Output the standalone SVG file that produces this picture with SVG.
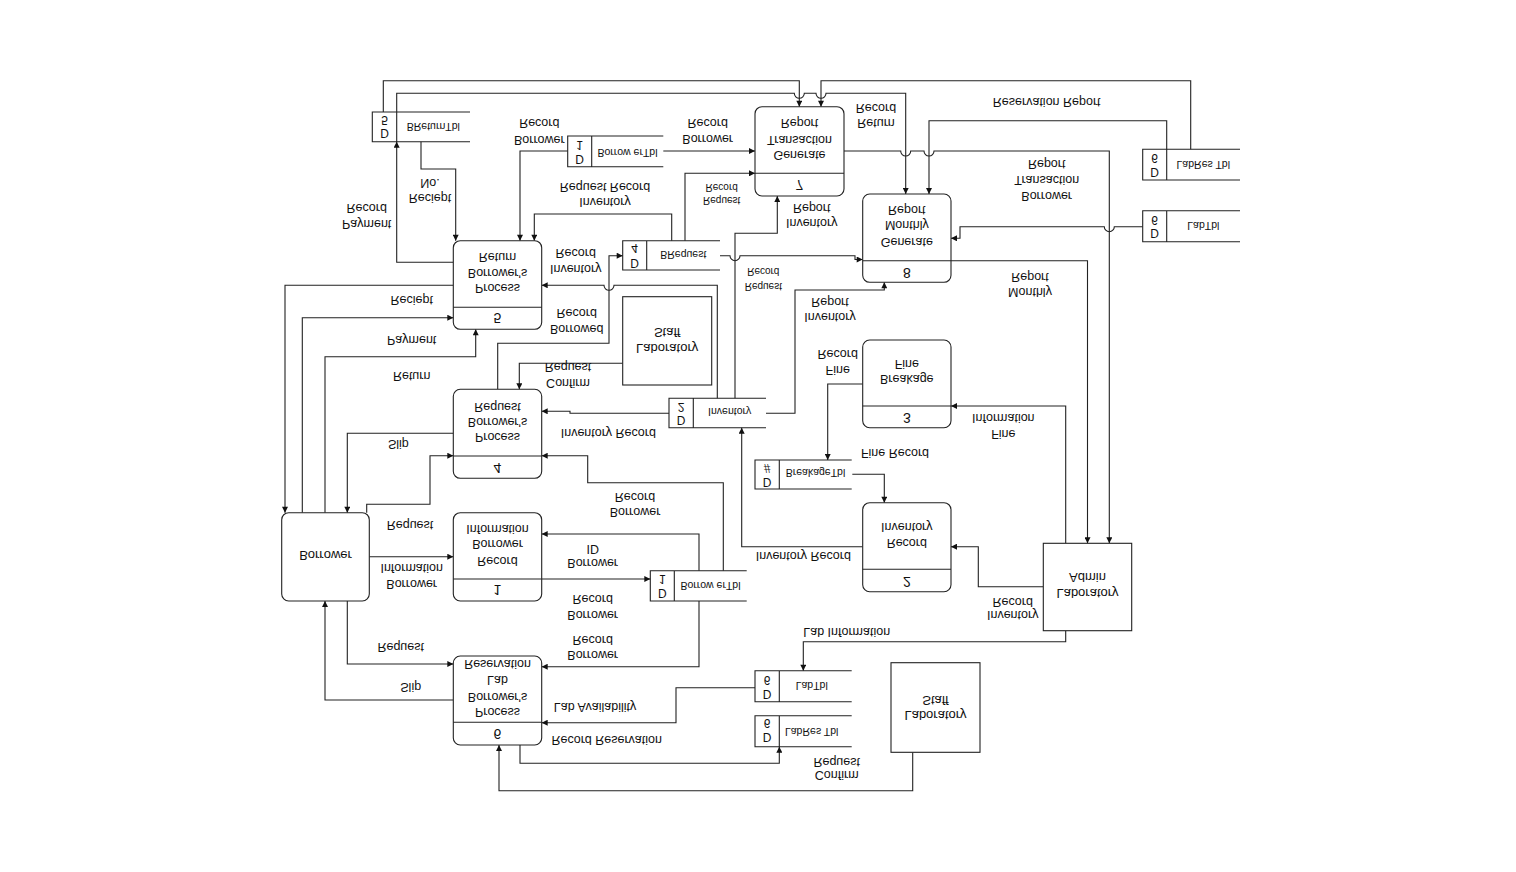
<svg xmlns="http://www.w3.org/2000/svg" width="1516" height="872" viewBox="0 0 1516 872">
<style>
text{font-family:"Liberation Sans",Arial,sans-serif;fill:#111;text-anchor:middle;dominant-baseline:central}
.n{font-size:12.5px}
.e{font-size:13px}
.l{font-size:12.5px}
.s{font-size:10px}
.sn{font-size:10.5px}
.sd{font-size:12px}
.pn{font-size:14px}
.box{fill:#fff;stroke:#222;stroke-width:1.1}
.ln{fill:none;stroke:#222;stroke-width:1.1}
.c path{fill:none;stroke:#222;stroke-width:1.1}
.a{marker-end:url(#arr)}
</style>
<defs>
<marker id="arr" viewBox="0 0 10 10" refX="10" refY="5" markerWidth="7" markerHeight="6" markerUnits="userSpaceOnUse" orient="auto">
<path d="M0,0 L10,5 L0,10 z" fill="#111"/>
</marker>
</defs>
<rect width="1516" height="872" fill="#fff"/>

<g id="connectors" class="c">
<path class="a" d="M383.3,112 V80.7 H799.3 V106.7"/>
<path class="a" d="M396.7,112 V93.3 H794.3 A5,5 0 0 0 804.3,93.3 H816 A5,5 0 0 0 826,93.3 H905.7 V194"/>
<path class="a" d="M1190.7,149.3 V80.7 H821 V106.7"/>
<path class="a" d="M1166.7,149.3 V120.7 H929 V194"/>
<path class="a" d="M844,151 H900.7 A5,5 0 0 0 910.7,151 H924 A5,5 0 0 0 934,151 H1109.3 V543.3"/>
<path class="a" d="M1142.7,226.7 H1114.3 A5,5 0 0 1 1104.3,226.7 H960 V238.3 H951"/>
<path class="a" d="M951,260.7 H1087.5 V543.3"/>
<path class="a" d="M663.3,151 H755"/>
<path class="a" d="M685,240.7 V173.3 H755"/>
<path class="a" d="M735,398.3 V233.3 H777.3 V196"/>
<path class="a" d="M720,255.7 H730 A5,5 0 0 0 740,255.7 H855 V259.5 H862.7"/>
<path class="a" d="M766,413.3 H795 V290 H884.3 V282.3"/>
<path class="a" d="M567.7,151 H520 V240.7"/>
<path class="a" d="M671.7,240.7 V214 H534.3 V240.7"/>
<path class="a" d="M421,141.7 V169 H455.7 V240.7"/>
<path class="a" d="M453.3,262.3 H396.7 V141.7"/>
<path class="a" d="M717.3,398.3 V285.3 H614 A5,5 0 0 1 604,285.3 H541.7"/>
<path class="a" d="M497.7,389.3 V343.3 H609 V255.7 H622.7"/>
<path class="a" d="M453.3,285.3 H285 V512.7"/>
<path class="a" d="M302.3,512.7 V317.7 H453.3"/>
<path class="a" d="M325,512.7 V356.7 H475.7 V329.3"/>
<path class="a" d="M622.7,363.3 H519.3 V389.3"/>
<path class="a" d="M669,413.3 H570 V411.3 H541.7"/>
<path class="a" d="M453.3,433.3 H347.3 V512.7"/>
<path class="a" d="M366.7,512.7 V504.3 H430 V455.7 H453.3"/>
<path class="a" d="M723.3,570.7 V482.7 H587.7 V455.7 H541.7"/>
<path class="a" d="M862.7,546.7 H741.7 V427.7"/>
<path class="a" d="M369.3,556.7 H453.3"/>
<path class="a" d="M541.7,579 H650.3"/>
<path class="a" d="M699,570.7 V534 H541.7"/>
<path class="a" d="M699,601 V666.7 H541.7"/>
<path class="a" d="M347.3,601 V664 H453.3"/>
<path class="a" d="M453.3,700 H325 V601"/>
<path class="a" d="M755,687.7 H676 V722.7 H541.7"/>
<path class="a" d="M520,745 V763.3 H779.3 V746.7"/>
<path class="a" d="M912.7,752.3 V790.7 H499 V745"/>
<path class="a" d="M1065.7,630.7 V641.7 H803.3 V670.7"/>
<path class="a" d="M862.7,384 H827.7 V460"/>
<path class="a" d="M852.3,474.3 H884.3 V502.7"/>
<path class="a" d="M1065.7,543.3 V406 H951"/>
<path class="a" d="M1043.3,586.7 H978.3 V546.7 H951"/>
</g>

<g id="flow-labels" transform="scale(1,-1)">
<text class="l" x="1046.7" y="-101.7">Reservation Report</text>
<text class="l" x="876" y="-108.3">Record</text>
<text class="l" x="876" y="-123.3">Return</text>
<text class="l" x="1046.7" y="-164.3">Report</text>
<text class="l" x="1046.7" y="-180">Transaction</text>
<text class="l" x="1046.7" y="-196">Borrower</text>
<text class="l" x="1030" y="-276.7">Report</text>
<text class="l" x="1030" y="-291.7">Monthly</text>
<text class="l" x="811.7" y="-208.3">Report</text>
<text class="l" x="811.7" y="-223.3">Inventory</text>
<text class="s" x="721.7" y="-187.3">Record</text>
<text class="s" x="721.7" y="-200.7">Request</text>
<text class="l" x="707.7" y="-123.3">Record</text>
<text class="l" x="707.7" y="-139.3">Borrower</text>
<text class="l" x="539.3" y="-123.3">Record</text>
<text class="l" x="539.3" y="-140">Borrower</text>
<text class="l" x="605" y="-186.7">Request Record</text>
<text class="l" x="605" y="-201.7">Inventory</text>
<text class="l" x="430" y="-183.3">No.</text>
<text class="l" x="430" y="-198.3">Reciept</text>
<text class="l" x="366.7" y="-208.3">Record</text>
<text class="l" x="366.7" y="-224.3">Payment</text>
<text class="l" x="575.7" y="-253.3">Record</text>
<text class="l" x="575.7" y="-269.3">Inventory</text>
<text class="s" x="763.3" y="-271.7">Record</text>
<text class="s" x="763.3" y="-286.7">Request</text>
<text class="l" x="411.7" y="-300">Reciept</text>
<text class="l" x="411.7" y="-340">Payment</text>
<text class="l" x="411.7" y="-375.7">Return</text>
<text class="l" x="576.7" y="-313.3">Record</text>
<text class="l" x="576.7" y="-329.3">Borrowed</text>
<text class="l" x="568" y="-367.3">Request</text>
<text class="l" x="568" y="-383.3">Confirm</text>
<text class="l" x="830" y="-301.7">Report</text>
<text class="l" x="830" y="-316.7">Inventory</text>
<text class="l" x="837.7" y="-354">Record</text>
<text class="l" x="837.7" y="-370">Fine</text>
<text class="l" x="608.3" y="-433.3">Inventory Record</text>
<text class="l" x="398.3" y="-444">Slip</text>
<text class="l" x="1003.3" y="-418.3">Information</text>
<text class="l" x="1003.3" y="-434.3">Fine</text>
<text class="l" x="895" y="-453.3">Fine Record</text>
<text class="l" x="635" y="-496.7">Record</text>
<text class="l" x="635" y="-512.3">Borrower</text>
<text class="l" x="410" y="-525">Request</text>
<text class="l" x="803.3" y="-556">Inventory Record</text>
<text class="l" x="411.7" y="-568.3">Information</text>
<text class="l" x="411.7" y="-584.3">Borrower</text>
<text class="l" x="592.7" y="-549">ID</text>
<text class="l" x="592.7" y="-563.3">Borrower</text>
<text class="l" x="592.7" y="-599.3">Record</text>
<text class="l" x="592.7" y="-615">Borrower</text>
<text class="l" x="1012.7" y="-601.7">Record</text>
<text class="l" x="1012.7" y="-615">Inventory</text>
<text class="l" x="846.7" y="-631.7">Lab Information</text>
<text class="l" x="592.7" y="-640">Record</text>
<text class="l" x="592.7" y="-655">Borrower</text>
<text class="l" x="400.7" y="-646.7">Request</text>
<text class="l" x="410.7" y="-686.7">Slip</text>
<text class="l" x="595" y="-706.7">Lab Availability</text>
<text class="l" x="606.7" y="-740">Record Reservation</text>
<text class="l" x="836.7" y="-761.7">Request</text>
<text class="l" x="836.7" y="-775">Confirm</text>
</g>

<g id="p1">
<rect class="box" x="453.3" y="512.7" width="88.4" height="88.3" rx="7"/>
<path class="ln" d="M453.3,579 H541.7"/>
<g transform="scale(1,-1)">
<text class="n" x="497.5" y="-529.3">Information</text>
<text class="n" x="497.5" y="-544.3">Borrower</text>
<text class="n" x="497.5" y="-561">Record</text>
<text class="pn" x="497.5" y="-590">1</text>
</g>
</g>
<g id="p2">
<rect class="box" x="862.7" y="502.7" width="88.3" height="89" rx="7"/>
<path class="ln" d="M862.7,569.3 H951"/>
<g transform="scale(1,-1)">
<text class="n" x="906.8" y="-526.7">Inventory</text>
<text class="n" x="906.8" y="-543.3">Record</text>
<text class="pn" x="906.8" y="-581.7">2</text>
</g>
</g>
<g id="p3">
<rect class="box" x="862.7" y="340" width="88.3" height="87.7" rx="7"/>
<path class="ln" d="M862.7,406 H951"/>
<g transform="scale(1,-1)">
<text class="n" x="906.8" y="-364.3">Fine</text>
<text class="n" x="906.8" y="-379.3">Breakage</text>
<text class="pn" x="906.8" y="-417.7">3</text>
</g>
</g>
<g id="p4">
<rect class="box" x="453.3" y="389.3" width="88.4" height="89" rx="7"/>
<path class="ln" d="M453.3,456 H541.7"/>
<g transform="scale(1,-1)">
<text class="n" x="497.5" y="-406.7">Request</text>
<text class="n" x="497.5" y="-421.7">Borrower's</text>
<text class="n" x="497.5" y="-437.3">Process</text>
<text class="pn" x="497.5" y="-468.3">4</text>
</g>
</g>
<g id="p5">
<rect class="box" x="453.3" y="240.7" width="88.4" height="88.6" rx="7"/>
<path class="ln" d="M453.3,307.3 H541.7"/>
<g transform="scale(1,-1)">
<text class="n" x="497.5" y="-256.7">Return</text>
<text class="n" x="497.5" y="-273.3">Borrower's</text>
<text class="n" x="497.5" y="-288.3">Process</text>
<text class="pn" x="497.5" y="-318.3">5</text>
</g>
</g>
<g id="p6">
<rect class="box" x="453.3" y="656" width="88.4" height="89" rx="7"/>
<path class="ln" d="M453.3,722.3 H541.7"/>
<g transform="scale(1,-1)">
<text class="n" x="497.5" y="-664.3">Reservation</text>
<text class="n" x="497.5" y="-680">Lab</text>
<text class="n" x="497.5" y="-697.3">Borrower's</text>
<text class="n" x="497.5" y="-712.3">Process</text>
<text class="pn" x="497.5" y="-734.3">6</text>
</g>
</g>
<g id="p7">
<rect class="box" x="755" y="106.7" width="89" height="89.3" rx="7"/>
<path class="ln" d="M755,173.3 H844"/>
<g transform="scale(1,-1)">
<text class="n" x="799.5" y="-123.3">Report</text>
<text class="n" x="799.5" y="-140">Transaction</text>
<text class="n" x="799.5" y="-155">Generate</text>
<text class="pn" x="799.5" y="-185">7</text>
</g>
</g>
<g id="p8">
<rect class="box" x="862.7" y="194" width="88.3" height="88.3" rx="7"/>
<path class="ln" d="M862.7,260.7 H951"/>
<g transform="scale(1,-1)">
<text class="n" x="906.8" y="-210">Report</text>
<text class="n" x="906.8" y="-225">Monthly</text>
<text class="n" x="906.8" y="-242">Generate</text>
<text class="pn" x="906.8" y="-272.7">8</text>
</g>
</g>

<g id="borrower">
<rect class="box" x="281.7" y="512.7" width="87.6" height="88.3" rx="7"/>
<g transform="scale(1,-1)"><text class="e" x="325.5" y="-555">Borrower</text></g>
</g>
<g id="lab-staff-1">
<rect class="box" x="622.7" y="296.7" width="89" height="88.3"/>
<g transform="scale(1,-1)">
<text class="e" x="667.2" y="-332.7">Staff</text>
<text class="e" x="667.2" y="-348.3">Laboratory</text>
</g>
</g>
<g id="lab-staff-2">
<rect class="box" x="891" y="662.7" width="89" height="89.6"/>
<g transform="scale(1,-1)">
<text class="e" x="935.5" y="-700">Staff</text>
<text class="e" x="935.5" y="-715">Laboratory</text>
</g>
</g>
<g id="lab-admin">
<rect class="box" x="1043.3" y="543.3" width="88.4" height="87.4"/>
<g transform="scale(1,-1)">
<text class="e" x="1087.5" y="-577.7">Admin</text>
<text class="e" x="1087.5" y="-593.3">Laboratory</text>
</g>
</g>

<g id="ds-returntbl">
<path class="ln" d="M470,112 H372.3 V141.7 H470 M396.7,112 V141.7"/>
<g transform="scale(1,-1)">
<text class="sd" x="384.5" y="-120">5</text><text class="sd" x="384.5" y="-133.3">D</text>
<text class="sn" x="433.3" y="-126.7">BReturnTbl</text>
</g>
</g>
<g id="ds-borrowertbl-1">
<path class="ln" d="M663.3,136 H567.7 V166.7 H663.3 M591.7,136 V166.7"/>
<g transform="scale(1,-1)">
<text class="sd" x="579.7" y="-145">1</text><text class="sd" x="579.7" y="-159.3">D</text>
<text class="sn" x="627.5" y="-152.7">Borrow erTbl</text>
</g>
</g>
<g id="ds-brequest">
<path class="ln" d="M720,240.7 H622.7 V270 H720 M646.7,240.7 V270"/>
<g transform="scale(1,-1)">
<text class="sd" x="634.7" y="-248.3">4</text><text class="sd" x="634.7" y="-263.3">D</text>
<text class="sn" x="683.3" y="-255">BRequest</text>
</g>
</g>
<g id="ds-inventory">
<path class="ln" d="M766,398.3 H669 V427.7 H766 M693.3,398.3 V427.7"/>
<g transform="scale(1,-1)">
<text class="sd" x="681" y="-406.7">2</text><text class="sd" x="681" y="-420">D</text>
<text class="sn" x="729.7" y="-412.3">Inventory</text>
</g>
</g>
<g id="ds-borrowertbl-2">
<path class="ln" d="M746.7,570.7 H650.3 V601 H746.7 M674.3,570.7 V601"/>
<g transform="scale(1,-1)">
<text class="sd" x="662.3" y="-579">1</text><text class="sd" x="662.3" y="-593.3">D</text>
<text class="sn" x="710.5" y="-585.7">Borrow erTbl</text>
</g>
</g>
<g id="ds-breakagetbl">
<path class="ln" d="M851.7,460 H755 V489 H851.7 M779.3,460 V489"/>
<g transform="scale(1,-1)">
<text class="sd" x="767.2" y="-468.3">#</text><text class="sd" x="767.2" y="-481.7">D</text>
<text class="sn" x="815.5" y="-473.3">BreakageTbl</text>
</g>
</g>
<g id="ds-labtbl-1">
<path class="ln" d="M851.7,670.7 H755 V701.7 H851.7 M779.3,670.7 V701.7"/>
<g transform="scale(1,-1)">
<text class="sd" x="767.2" y="-680">6</text><text class="sd" x="767.2" y="-694">D</text>
<text class="sn" x="811.7" y="-686">LabTbl</text>
</g>
</g>
<g id="ds-labrestbl-1">
<path class="ln" d="M851.7,715.7 H755 V746.7 H851.7 M779.3,715.7 V746.7"/>
<g transform="scale(1,-1)">
<text class="sd" x="767.2" y="-723.3">6</text><text class="sd" x="767.2" y="-737.3">D</text>
<text class="sn" x="811.7" y="-731.7">LabRes Tbl</text>
</g>
</g>
<g id="ds-labrestbl-2">
<path class="ln" d="M1240,149.3 H1142.7 V180 H1240 M1166.7,149.3 V180"/>
<g transform="scale(1,-1)">
<text class="sd" x="1154.7" y="-158.3">6</text><text class="sd" x="1154.7" y="-171.7">D</text>
<text class="sn" x="1203.3" y="-165">LabRes Tbl</text>
</g>
</g>
<g id="ds-labtbl-2">
<path class="ln" d="M1240,210.7 H1142.7 V241.7 H1240 M1166.7,210.7 V241.7"/>
<g transform="scale(1,-1)">
<text class="sd" x="1154.7" y="-220">6</text><text class="sd" x="1154.7" y="-233.3">D</text>
<text class="sn" x="1203.3" y="-226">LabTbl</text>
</g>
</g>
</svg>
